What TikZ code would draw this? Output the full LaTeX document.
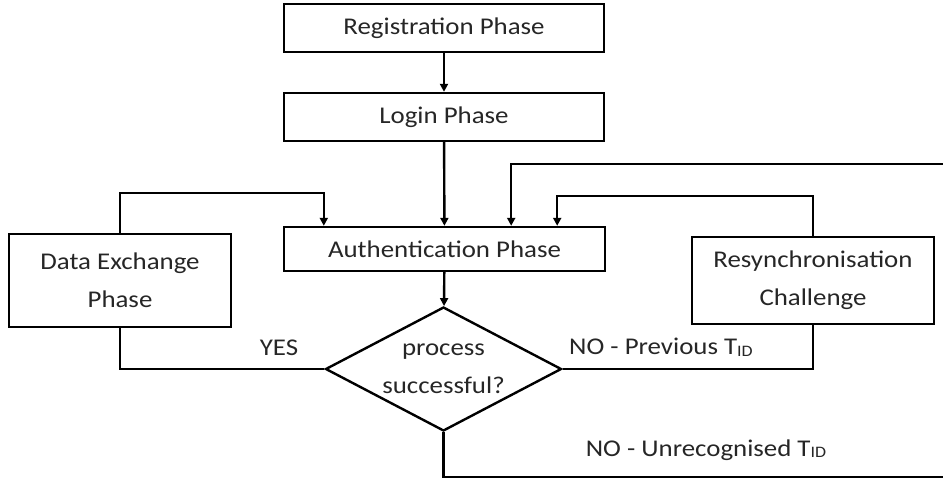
\documentclass[tikz,border=0pt]{standalone}
\usepackage{fontspec}
\setmainfont[FakeStretch=1.12]{Carlito}
\usetikzlibrary{shapes.geometric,arrows.meta}
\tikzset{
  box/.style={draw=black, line width=2.4pt, rectangle, inner sep=0pt, align=center, text=black!85},
  dec/.style={draw=black, line width=2.4pt, diamond, aspect=1.9, inner sep=0pt, minimum width=236pt, minimum height=124pt, align=center, text=black!85},
  lbl/.style={inner sep=0pt, text=black!85},
  conn/.style={draw=black, line width=2.4pt},
  arr/.style={conn, -{Triangle[length=8pt,width=8pt]}},
}
\newcommand{\tsub}[1]{\raisebox{-0.15ex}{\fontsize{16}{16}\selectfont #1}}
\begin{document}
\begin{tikzpicture}[x=1pt,y=-1pt,font=\fontsize{24}{38}\selectfont]
\useasboundingbox (0,0) rectangle (943,483);
\node[box, minimum width=320pt, minimum height=48pt] (reg) at (444,28) {Registration Phase};
\node[box, minimum width=320pt, minimum height=48pt] (login) at (444,117) {Login Phase};
\node[box, minimum width=321pt, minimum height=44pt] (auth) at (444.5,249) {Authentication Phase};
\node[box, minimum width=222pt, minimum height=93pt] (data) at (120,280.5) {Data Exchange\\Phase};
\node[box, minimum width=242pt, minimum height=87pt] (resync) at (813,280.5) {Resynchronisation\\Challenge};
\node[dec] (d) at (443.5,369) {process\\successful?};
\node[lbl] (yes) at (279,348) {YES};
\node[lbl] (prev) at (661,347) {NO - Previous T\tsub{ID}};
\node[lbl] (unrec) at (706,450) {NO - Unrecognised T\tsub{ID}};
\coordinate (c1) at (948,477);
\coordinate (c2) at (948,164);
\draw[arr] (reg) -- (login);
\draw[arr] (login) -- (auth);
\draw[arr] (auth) -- (d);
\draw[conn] (d.west) -| (data.south);
\draw[arr] (data.north) -- ++(0,-40) -| ([xshift=41pt]auth.north west);
\draw[conn] (d.east) -| (resync.south);
\draw[arr] (resync.north) -- ++(0,-40) -| ([xshift=-49pt]auth.north east);
\draw[arr] (d.south) |- (c1) -- (c2) -| ([xshift=-95pt]auth.north east);
\end{tikzpicture}
\end{document}
